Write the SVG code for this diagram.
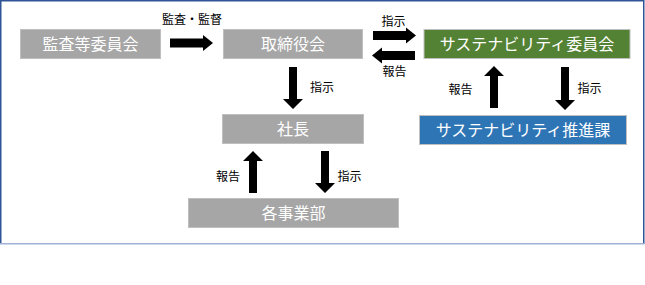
<svg xmlns="http://www.w3.org/2000/svg" width="645" height="285" viewBox="0 0 645 285">
<style>
.box{stroke:#BFBFBF;stroke-width:1}
.gray{fill:#A6A6A6}
.green{fill:#548235}
.blue{fill:#2E75B6}
.bt{font-family:"Noto Sans CJK JP","Noto Sans CJK SC",sans-serif;font-size:16px;fill:#FFFFFF;text-anchor:middle}
.lb{font-family:"Noto Sans CJK JP","Noto Sans CJK SC",sans-serif;font-size:12px;fill:#000000;text-anchor:middle}
.ar{fill:#000000}
</style>
<rect x="0" y="0" width="645" height="285" fill="#FFFFFF"/>
<path d="M0.75 244 V0.75 H643.75 V244" fill="none" stroke="#2F5597" stroke-width="1.5"/>
<line x1="0" y1="243.75" x2="644.5" y2="243.75" stroke="#9FB1D6" stroke-width="1.5"/>
<g id="node-kansa">
<rect class="box gray" x="20.5" y="29.5" width="140" height="29"/>
<text class="bt" x="90.5" y="49.5">監査等委員会</text>
</g>
<g id="node-torishimariyaku">
<rect class="box gray" x="223.5" y="29.5" width="139" height="29"/>
<text class="bt" x="293" y="49.5">取締役会</text>
</g>
<g id="node-sus-iinkai">
<rect class="box green" x="424" y="29.5" width="206" height="29"/>
<text class="bt" x="527" y="49.5">サステナビリティ委員会</text>
</g>
<g id="node-shacho">
<rect class="box gray" x="222.5" y="114.5" width="141" height="29"/>
<text class="bt" x="293" y="134.5">社長</text>
</g>
<g id="node-sus-suishin">
<rect class="box blue" x="419.5" y="115.5" width="207" height="29"/>
<text class="bt" x="523" y="135.5">サステナビリティ推進課</text>
</g>
<g id="node-jigyobu">
<rect class="box gray" x="188.5" y="198.5" width="210" height="29"/>
<text class="bt" x="293.5" y="218.5">各事業部</text>
</g>
<g id="connectors">
<polygon class="ar" points="170,38.5 203,38.5 203,35 213,43 203,51 203,47.5 170,47.5"/>
<polygon class="ar" points="373,31 406,31 406,27.5 416,35.5 406,43.5 406,40 373,40"/>
<polygon class="ar" points="415,51 382,51 382,47.5 372,55.5 382,63.5 382,60 415,60"/>
<polygon class="ar" points="289,67 297,67 297,99 303,99 293,109 283,99 289,99"/>
<polygon class="ar" points="490,108 498,108 498,76 504,76 494,66 484,76 490,76"/>
<polygon class="ar" points="561,67 569,67 569,100 575,100 565,110 555,100 561,100"/>
<polygon class="ar" points="249,193 257,193 257,161 263,161 253,151 243,161 249,161"/>
<polygon class="ar" points="321,151 329,151 329,183 335,183 325,193 315,183 321,183"/>
<text class="lb" x="192" y="24">監査・監督</text>
<text class="lb" x="393.5" y="26">指示</text>
<text class="lb" x="394.5" y="76">報告</text>
<text class="lb" x="322" y="92">指示</text>
<text class="lb" x="460.5" y="94">報告</text>
<text class="lb" x="589.5" y="93">指示</text>
<text class="lb" x="228" y="181">報告</text>
<text class="lb" x="349.5" y="181">指示</text>
</g>
</svg>
